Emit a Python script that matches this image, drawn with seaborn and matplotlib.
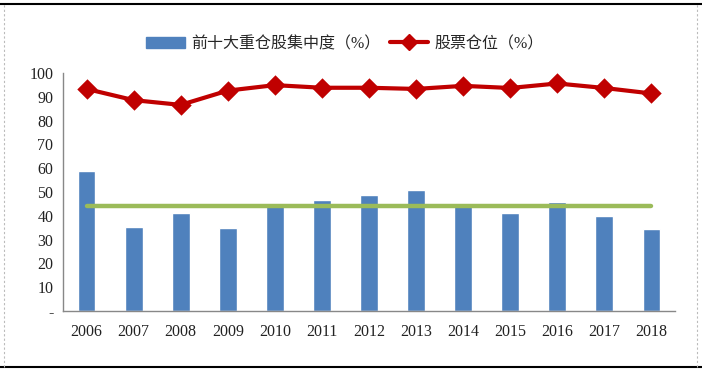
import matplotlib
matplotlib.use("Agg")
import matplotlib.pyplot as plt
import seaborn as sns
from matplotlib.lines import Line2D
from matplotlib.patches import Patch

# Chart data
years = ["2006", "2007", "2008", "2009", "2010", "2011", "2012",
         "2013", "2014", "2015", "2016", "2017", "2018"]
top10_conc = [58.8, 35.3, 41.2, 34.9, 45.0, 46.6, 48.7,
              50.8, 44.5, 41.2, 45.8, 39.9, 34.5]
stock_pos = [93.3, 88.6, 86.6, 92.6, 94.9, 93.8, 93.8,
             93.3, 94.6, 93.7, 95.6, 93.7, 91.4]
avg_conc = [44.1, 44.1, 44.1, 44.1, 44.1, 44.1, 44.1,
            44.1, 44.1, 44.1, 44.1, 44.1, 44.1]
y_ticks = [0, 10, 20, 30, 40, 50, 60, 70, 80, 90, 100]
y_labels = ["-", "10", "20", "30", "40", "50", "60", "70", "80", "90", "100"]
bar_label = "前十大重仓股集中度（%）"
line_label = "股票仓位（%）"

sns.set_style("white")
plt.rcParams["font.family"] = ["Liberation Serif", "Noto Sans CJK SC", "DejaVu Sans"]

blue = "#4F81BD"
red = "#C00000"
green = "#9BBB59"

fig = plt.figure(figsize=(7.02, 3.71), dpi=100)
ax = fig.add_axes([63 / 702, 1 - 311 / 371, 612 / 702, 238 / 371])

sns.barplot(x=years, y=top10_conc, color=blue, width=0.38, saturation=1, ax=ax)
sns.pointplot(x=years, y=avg_conc, color=green, markers="", linewidth=3.2, ax=ax)
sns.pointplot(x=years, y=stock_pos, color=red, markers="D", markersize=8,
              linewidth=3, ax=ax)

ax.set_xlim(-0.5, len(years) - 0.5)
ax.set_ylim(0, 100)
ax.set_yticks(y_ticks)
ax.set_yticklabels(y_labels)
ax.set_xticks(range(len(years)))
ax.set_xticklabels(years)
ax.set_xticks([i - 0.5 for i in range(len(years) + 1)], minor=True)

ax.tick_params(axis="x", which="major", length=0, pad=9, labelsize=11.5, labelcolor="#222222")
ax.tick_params(axis="x", which="minor", length=6, width=1, color="#888888", direction="out")
ax.tick_params(axis="y", length=4, width=1, color="#888888", direction="out",
               labelsize=11.5, labelcolor="#222222", pad=3)
ax.set_xlabel("")
ax.set_ylabel("")

for s in ["top", "right"]:
    ax.spines[s].set_visible(False)
for s in ["left", "bottom"]:
    ax.spines[s].set_color("#888888")
    ax.spines[s].set_linewidth(1)

handles = [Patch(facecolor=blue, edgecolor=blue),
           Line2D([0], [0], color=red, lw=3, marker="D", markersize=8)]
fig.legend(handles, [bar_label, line_label], loc="center",
           bbox_to_anchor=(345 / 702, 1 - 44 / 371), ncol=2, frameon=False,
           fontsize=11.5, handlelength=2.4, columnspacing=0.6, handletextpad=0.4)

# Outer border: solid top/bottom, dashed sides
fig.add_artist(Line2D([0, 1], [1 - 4 / 371] * 2, color="black", lw=1.5))
fig.add_artist(Line2D([0, 1], [1 - 367 / 371] * 2, color="black", lw=1.5))
fig.add_artist(Line2D([4 / 702] * 2, [1 - 367 / 371, 1 - 4 / 371], color="#bbbbbb",
                      lw=0.8, ls=(0, (2, 2))))
fig.add_artist(Line2D([697 / 702] * 2, [1 - 367 / 371, 1 - 4 / 371], color="#bbbbbb",
                      lw=0.8, ls=(0, (2, 2))))

fig.savefig("out.png", dpi=100)
